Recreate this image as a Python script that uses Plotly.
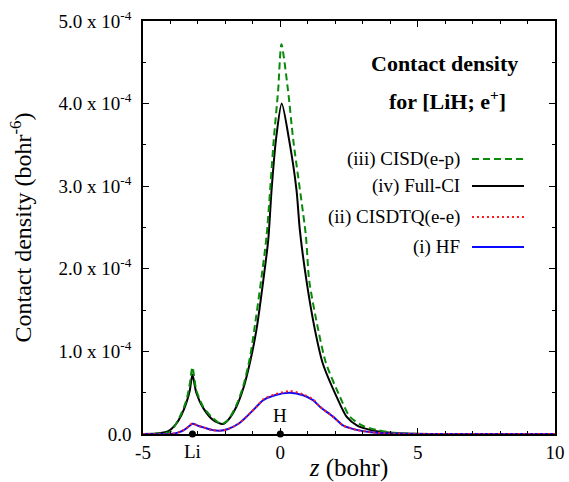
import plotly.graph_objects as go

# z positions (bohr) and contact density values (units of 1e-4 bohr^-6)
z_fci = [-5.0, -4.5, -4.1, -3.8, -3.6, -3.42, -3.3, -3.2, -3.06, -2.8, -2.45, -2.1, -1.9, -1.6,
         -1.35, -1.11, -0.87, -0.62, -0.44, -0.32, -0.16, 0.05, 0.32, 0.59, 0.71, 0.95, 1.26, 1.54,
         2.05, 2.41, 2.8, 3.26, 3.8, 4.5, 5.5, 10.0]
v_fci = [0.0, 0.005, 0.03, 0.12, 0.23, 0.38, 0.52, 0.72, 0.50, 0.31, 0.17, 0.12, 0.17, 0.33,
         0.55, 0.86, 1.26, 1.86, 2.35, 2.95, 3.56, 4.00, 3.56, 2.95, 2.47, 1.86, 1.26, 0.86,
         0.45, 0.21, 0.10, 0.05, 0.02, 0.005, 0.0, 0.0]

z_cisd = [-5.0, -4.5, -4.0, -3.66, -3.42, -3.3, -3.2, -3.06, -2.81, -2.45, -2.14, -1.9, -1.6,
          -1.35, -1.11, -0.95, -0.7, -0.5, -0.24, -0.08, 0.04, 0.28, 0.47, 0.93, 1.05, 1.38, 1.66,
          2.17, 2.53, 3.0, 3.5, 4.0, 4.5, 5.5, 10.0]
v_cisd = [0.0, 0.005, 0.03, 0.21, 0.41, 0.60, 0.81, 0.53, 0.33, 0.19, 0.12, 0.17, 0.35,
          0.58, 0.92, 1.26, 1.86, 2.40, 3.56, 4.16, 4.72, 4.16, 3.56, 2.40, 1.86, 1.26, 0.86,
          0.45, 0.21, 0.10, 0.05, 0.02, 0.005, 0.0, 0.0]

z_hf = [-5.0, -4.0, -3.7, -3.5, -3.3, -3.2, -3.0, -2.8, -2.5, -2.2, -1.9, -1.5, -1.23, -0.87,
        -0.62, -0.2, 0.35, 0.83, 1.19, 1.44, 1.92, 2.3, 2.77, 3.3, 4.0, 5.0, 10.0]
v_hf = [0.0, 0.0, 0.02, 0.05, 0.10, 0.125, 0.10, 0.08, 0.05, 0.04, 0.06, 0.13, 0.21, 0.33,
        0.41, 0.47, 0.50, 0.47, 0.41, 0.33, 0.21, 0.10, 0.05, 0.02, 0.005, 0.0, 0.0]

z_cisdtq = z_hf
v_cisdtq = [0.0, 0.0, 0.02, 0.05, 0.10, 0.13, 0.10, 0.08, 0.05, 0.04, 0.06, 0.13, 0.21, 0.33,
            0.42, 0.48, 0.52, 0.48, 0.42, 0.33, 0.21, 0.10, 0.05, 0.02, 0.005, 0.0, 0.0]

atom_z = [-3.2, 0.0]
atom_names = ["Li", "H"]

y_ticks = [0, 1, 2, 3, 4, 5]
y_ticktext = ["0.0"] + [f"{v:.1f} x 10<sup>-4</sup>" for v in y_ticks[1:]]
x_ticks = [-5, 0, 5, 10]
x_ticktext = ["-5", "0", "5", "10"]

series = [
    ("(iii) CISD(e-p)", z_cisd, v_cisd, "#0a8a0a", "7px,4px"),
    ("(iv) Full-CI", z_fci, v_fci, "black", "solid"),
    ("(ii) CISDTQ(e-e)", z_cisdtq, v_cisdtq, "#ff1a1a", "2px,3px"),
    ("(i) HF", z_hf, v_hf, "#0a0aff", "solid"),
]

S = 1e-4
fig = go.Figure()
draw_order = [1, 0, 3, 2]
for i in draw_order:
    name, zz, vv, col, dash = series[i]
    fig.add_trace(go.Scatter(x=zz, y=[v * S for v in vv], mode="lines", name=name,
                             line=dict(color=col, width=2, dash=dash, shape="spline", smoothing=0.7),
                             showlegend=False))

fig.add_trace(go.Scatter(x=atom_z, y=[0, 0], mode="markers", marker=dict(color="black", size=7),
                         cliponaxis=False, showlegend=False))

FONT = "Liberation Serif, Times New Roman, serif"
fig.update_layout(
    width=569, height=482,
    margin=dict(l=143, r=14, t=21, b=48, autoexpand=False),
    paper_bgcolor="white", plot_bgcolor="white",
    font=dict(family=FONT, size=19, color="black"),
    xaxis=dict(range=[-5, 10], tickvals=x_ticks, ticktext=x_ticktext, ticks="inside", ticklen=6,
               tickwidth=1.2, showline=True, linewidth=1.5, linecolor="black", mirror="ticks",
               showgrid=False, zeroline=False, tickcolor="black", automargin=False,
               ticklabelstandoff=0,
               minor=dict(dtick=1, ticks="inside", ticklen=3, tickcolor="black", showgrid=False),
               title=dict(text="<i>z</i> (bohr)", font=dict(size=25), standoff=14)),
    yaxis=dict(range=[0, 5 * S], tickvals=[v * S for v in y_ticks], ticktext=y_ticktext,
               ticks="inside", ticklen=6, tickwidth=1.2, showline=True, linewidth=1.5,
               linecolor="black", mirror="ticks", showgrid=False, zeroline=False, tickcolor="black",
               automargin=False, ticklabelstandoff=6,
               minor=dict(dtick=0.5 * S, ticks="inside", ticklen=3, tickcolor="black", showgrid=False),
               title=dict(text="Contact density (bohr<sup>-6</sup>)", font=dict(size=24), standoff=20)),
)

PW, PH = 555 - 143, 434 - 21
def px(xp):
    return (xp - 143) / PW
def py(yp):
    return (434 - yp) / PH

# atom labels
fig.add_annotation(x=atom_z[0], y=0, xref="x", yref="y", text=atom_names[0], showarrow=False,
                   yanchor="middle", yshift=-17, font=dict(size=19))
fig.add_annotation(x=atom_z[1], y=0, xref="x", yref="y", text=atom_names[1], showarrow=False,
                   yanchor="bottom", yshift=6, font=dict(size=19))

# title block
fig.add_annotation(x=px(520), y=py(64), xref="paper", yref="paper", text="<b>Contact density</b>",
                   showarrow=False, xanchor="right", yanchor="middle", font=dict(size=22))
fig.add_annotation(x=px(508), y=py(100), xref="paper", yref="paper",
                   text="<b>for [LiH; e<sup>+</sup>]</b>",
                   showarrow=False, xanchor="right", yanchor="middle", font=dict(size=22))

# legend (text right-aligned, line sample to the right)
leg_y = [159, 186, 217, 247]
for (name, zz, vv, col, dash), yy in zip(series, leg_y):
    fig.add_annotation(x=px(462), y=py(yy), xref="paper", yref="paper", text=name, showarrow=False,
                       xanchor="right", yanchor="middle", font=dict(size=19))
    fig.add_shape(type="line", x0=px(472), x1=px(524), y0=py(yy), y1=py(yy), xref="paper",
                  yref="paper", line=dict(color=col, width=2, dash=dash))

fig.write_html("out.html", config={"displayModeBar": False},
               post_script="document.body.style.margin='0';")
